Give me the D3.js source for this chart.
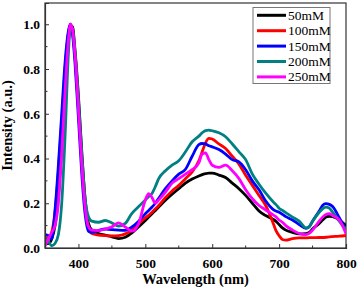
<!DOCTYPE html>
<html><head><meta charset="utf-8">
<script src="https://cdn.jsdelivr.net/npm/d3@7"></script>
<style>body{margin:0;background:#fff}svg{display:block}svg text{font-family:"Liberation Serif","Times New Roman",serif}</style>
</head><body>
<script>
const wavelength = [350,355,360,365,370,375,380,385,388,391,395,400,405,410,415,420,430,440,450,460,470,480,490,500,505,510,515,520,530,540,550,560,570,580,585,590,595,600,610,620,630,640,650,660,670,680,690,695,700,705,710,720,730,740,745,750,760,765,770,775,780,790,800];
const s50  = [0.02,0.02,0.04,0.10,0.24,0.45,0.70,0.92,0.99,0.99,0.88,0.68,0.43,0.22,0.11,0.08,0.065,0.058,0.05,0.042,0.048,0.068,0.095,0.123,0.138,0.153,0.168,0.183,0.213,0.24,0.265,0.29,0.308,0.322,0.328,0.332,0.335,0.335,0.326,0.315,0.29,0.265,0.235,0.20,0.165,0.145,0.13,0.12,0.105,0.09,0.08,0.07,0.063,0.064,0.07,0.085,0.11,0.125,0.138,0.142,0.14,0.125,0.10];
const s100 = [0.05,0.04,0.07,0.16,0.34,0.57,0.80,0.96,1.0,0.97,0.85,0.62,0.38,0.19,0.09,0.065,0.058,0.055,0.054,0.055,0.063,0.08,0.109,0.135,0.146,0.16,0.175,0.19,0.225,0.255,0.28,0.31,0.34,0.39,0.43,0.47,0.49,0.487,0.465,0.445,0.41,0.375,0.325,0.28,0.235,0.19,0.12,0.08,0.055,0.038,0.035,0.042,0.045,0.045,0.046,0.046,0.047,0.047,0.048,0.05,0.051,0.053,0.056];
const s150 = [0.06,0.055,0.04,0.17,0.37,0.60,0.83,0.97,1.0,0.96,0.82,0.58,0.33,0.15,0.075,0.07,0.078,0.085,0.082,0.08,0.079,0.094,0.12,0.153,0.168,0.183,0.20,0.222,0.265,0.30,0.33,0.352,0.41,0.462,0.467,0.465,0.457,0.452,0.44,0.42,0.395,0.385,0.35,0.30,0.26,0.21,0.175,0.165,0.16,0.15,0.14,0.125,0.105,0.088,0.095,0.12,0.165,0.19,0.198,0.195,0.185,0.135,0.079];
const s200 = [0.04,0.03,0.01,0.02,0.06,0.20,0.50,0.87,0.99,0.98,0.87,0.66,0.42,0.22,0.14,0.12,0.115,0.123,0.112,0.098,0.11,0.155,0.185,0.215,0.23,0.244,0.275,0.31,0.345,0.37,0.39,0.43,0.475,0.50,0.515,0.525,0.527,0.524,0.515,0.497,0.465,0.43,0.395,0.33,0.285,0.245,0.21,0.195,0.178,0.168,0.158,0.138,0.12,0.09,0.095,0.12,0.16,0.175,0.183,0.178,0.16,0.12,0.08];
const s250 = [0.01,0.04,0.07,0.10,0.20,0.42,0.70,0.93,1.0,0.98,0.86,0.62,0.37,0.18,0.095,0.08,0.078,0.085,0.095,0.112,0.094,0.075,0.109,0.215,0.243,0.225,0.20,0.215,0.25,0.29,0.31,0.33,0.35,0.38,0.42,0.425,0.395,0.37,0.36,0.37,0.345,0.31,0.26,0.22,0.19,0.17,0.15,0.14,0.125,0.115,0.10,0.08,0.065,0.06,0.065,0.08,0.12,0.138,0.15,0.153,0.145,0.125,0.064];
const seriesNames = ["50mM","100mM","150mM","200mM","250mM"];
const seriesColors = ["#000000","#ff0000","#0000ff","#008080","#ff00ff"];
const seriesValues = [s50,s100,s150,s200,s250];
const xTicks = [400,500,600,700,800];
const yTicks = [0.0,0.2,0.4,0.6,0.8,1.0];

const W = 357, H = 287;
const m = {left:45, right:11, top:3, bottom:39};
const svg = d3.select("body").append("svg").attr("width",W).attr("height",H);
const x = d3.scaleLinear().domain([350,800]).range([m.left, W-m.right]);
const y = d3.scaleLinear().domain([0,1.095]).range([H-m.bottom, m.top]);
const font = '"Liberation Serif","Times New Roman",serif';

// frame
svg.append("rect").attr("x",m.left).attr("y",m.top)
  .attr("width",W-m.right-m.left).attr("height",H-m.bottom-m.top)
  .attr("fill","none").attr("stroke","#333").attr("stroke-width",1.2);

// lines
svg.append("clipPath").attr("id","c").append("rect")
  .attr("x",m.left).attr("y",m.top).attr("width",W-m.right-m.left).attr("height",H-m.bottom-m.top);
const line = d3.line().x((d,i)=>x(wavelength[i])).y(d=>y(d)).curve(d3.curveMonotoneX);
seriesValues.forEach((vals,k)=>{
  svg.append("path").attr("d",line(vals)).attr("fill","none")
    .attr("stroke",seriesColors[k]).attr("stroke-width",2.8)
    .attr("stroke-linejoin","round").attr("clip-path","url(#c)");
});

// axes
const xAxis = svg.append("g").attr("transform",`translate(0,${H-m.bottom})`)
  .call(d3.axisBottom(x).tickValues(xTicks).tickSize(-4).tickPadding(10).tickFormat(d3.format("d")));
const yAxis = svg.append("g").attr("transform",`translate(${m.left},0)`)
  .call(d3.axisLeft(y).tickValues(yTicks).tickSize(-4).tickPadding(5).tickFormat(d3.format(".1f")));
[xAxis,yAxis].forEach(g=>{
  g.attr("font-family",null);
  g.select(".domain").attr("stroke","#333").attr("stroke-width",1.2);
  g.selectAll(".tick line").attr("stroke","#333").attr("stroke-width",1);
  g.selectAll("text").style("font-family",font).style("font-weight","bold").style("font-size","13.5px").attr("fill","#000");
});
// minor ticks
const xMinor = [450,550,650,750];
svg.append("g").selectAll("line").data(xMinor).join("line")
  .attr("x1",d=>x(d)).attr("x2",d=>x(d)).attr("y1",H-m.bottom).attr("y2",H-m.bottom-2.5)
  .attr("stroke","#333");
const yMinor = [0.1,0.3,0.5,0.7,0.9];
svg.append("g").selectAll("line").data(yMinor).join("line")
  .attr("x1",m.left).attr("x2",m.left+2.5).attr("y1",d=>y(d)).attr("y2",d=>y(d))
  .attr("stroke","#333");

// titles
svg.append("text").attr("x",(m.left+W-m.right)/2).attr("y",284).attr("text-anchor","middle")
  .style("font-family",font).style("font-weight","bold").style("font-size","14.5px").text("Wavelength (nm)");
svg.append("text").attr("transform",`translate(12,${(m.top+H-m.bottom)/2}) rotate(-90)`)
  .attr("text-anchor","middle").style("font-family",font).style("font-weight","bold").style("font-size","14.5px")
  .text("Intensity (a.u.)");

// legend
const lg = svg.append("g");
lg.append("rect").attr("x",253).attr("y",7.5).attr("width",77).attr("height",76)
  .attr("fill","#fff").attr("stroke","#777").attr("stroke-width",1);
seriesNames.forEach((n,k)=>{
  const yy = 15.3 + k*15.4;
  lg.append("line").attr("x1",257).attr("x2",286).attr("y1",yy).attr("y2",yy)
    .attr("stroke",seriesColors[k]).attr("stroke-width",3);
  lg.append("text").attr("x",288).attr("y",yy+4.5).style("font-family",font)
    .style("font-size","13.5px").text(n);
});
</script>
</body></html>
